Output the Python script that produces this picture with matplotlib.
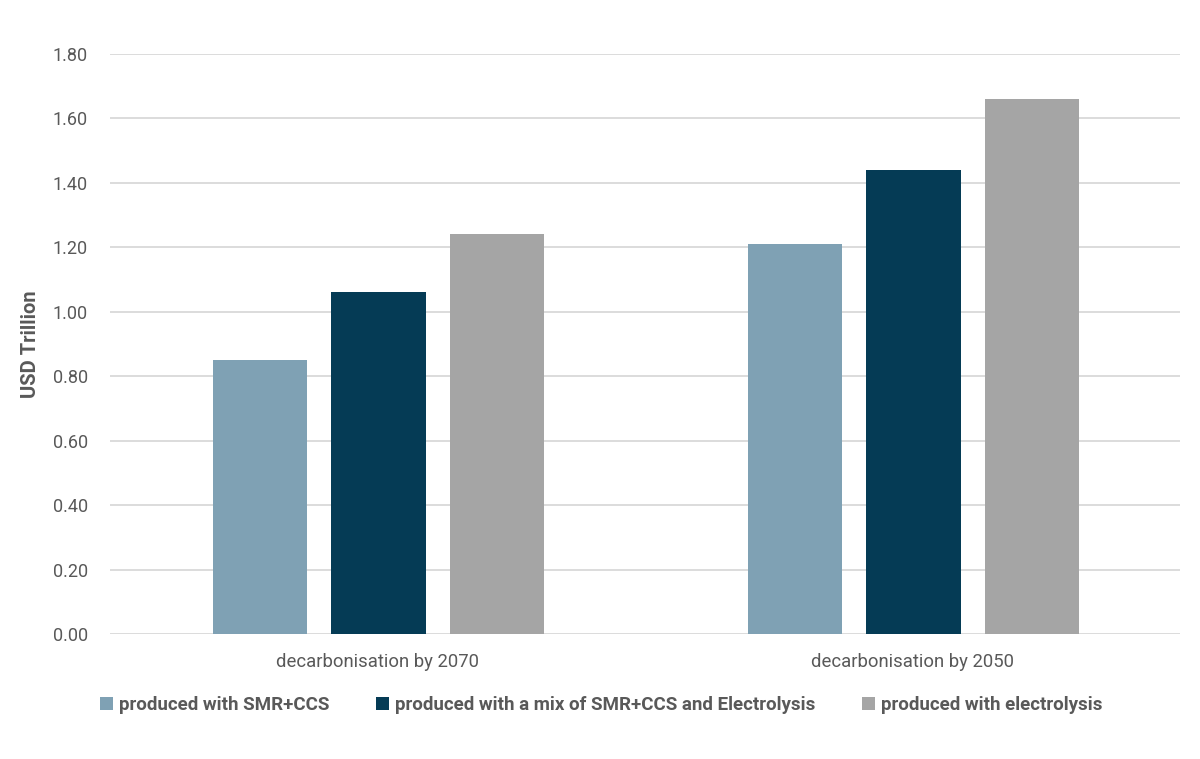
import matplotlib
matplotlib.use("Agg")
import matplotlib.pyplot as plt
import numpy as np

categories = ["decarbonisation by 2070", "decarbonisation by 2050"]
series_names = ["produced with SMR+CCS",
                "produced with a mix of SMR+CCS and Electrolysis",
                "produced with electrolysis"]
smr_ccs = [0.85, 1.21]
mix = [1.06, 1.44]
electrolysis = [1.24, 1.66]
yticks = [0.0, 0.2, 0.4, 0.6, 0.8, 1.0, 1.2, 1.4, 1.6, 1.8]
colors = ["#7fa1b4", "#053b55", "#a5a5a5"]

plt.rcParams['font.family'] = ['Roboto', 'DejaVu Sans']
txt = "#595959"

fig = plt.figure(figsize=(12, 7.59), dpi=100)
ax = fig.add_axes([110/1200, 1-634/759, 1070/1200, (634-54)/759])

x = np.arange(len(categories))
w = 0.176
step = 0.222
for i, (vals, name, c) in enumerate(zip([smr_ccs, mix, electrolysis], series_names, colors)):
    ax.bar(x + (i-1)*step + 0.002, vals, width=w, color=c, label=name, zorder=3)

ax.set_xlim(-0.5, 1.5)
ax.set_ylim(0, 1.8)
ax.set_yticks(yticks)
ax.set_yticklabels([f"{v:.2f}" for v in yticks], fontsize=13, color=txt)
ax.set_xticks(x)
ax.set_xticklabels(categories, fontsize=13.3, color=txt)
ax.tick_params(axis='both', length=0)
ax.tick_params(axis='y', pad=16)
ax.tick_params(axis='x', pad=14)
ax.grid(axis='y', color="#d9d9d9", linewidth=1.3, zorder=0)
for s in ax.spines.values():
    s.set_visible(False)
ax.set_ylabel("USD Trillion", fontsize=14.5, fontweight='bold', color=txt, labelpad=9)

leg = fig.legend(loc='center', bbox_to_anchor=(601/1200, 1-705/759), ncol=3, frameon=False,
                 prop={'size': 13.5, 'weight': 'bold'}, handlelength=0.7, handleheight=0.7,
                 handletextpad=0.3, columnspacing=2.5)
for t in leg.get_texts():
    t.set_color(txt)

fig.savefig("out.png", dpi=100, facecolor="white")
